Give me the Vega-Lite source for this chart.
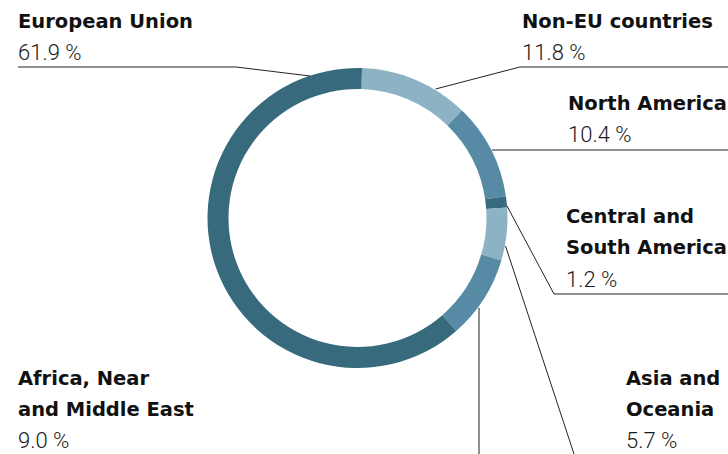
{
  "$schema": "https://vega.github.io/schema/vega-lite/v6.json",
  "width": 715,
  "height": 436,
  "autosize": {"type": "none"},
  "padding": {"left": 0, "top": 0, "right": 13, "bottom": 18},
  "background": "white",
  "config": {"font": "Roboto", "view": {"stroke": null}},
  "datasets": {
    "shares": [
      {"region": "Non-EU countries", "share": 11.8, "idx": 1, "title": ["Non-EU countries"], "lx": 522, "ly": 28, "vy": 60},
      {"region": "North America", "share": 10.4, "idx": 2, "title": ["North America"], "lx": 568, "ly": 110, "vy": 142},
      {"region": "Central and South America", "share": 1.2, "idx": 3, "title": ["Central and", "South America"], "lx": 566, "ly": 223, "vy": 287},
      {"region": "Asia and Oceania", "share": 5.7, "idx": 4, "title": ["Asia and", "Oceania"], "lx": 626, "ly": 385, "vy": 448},
      {"region": "Africa, Near and Middle East", "share": 9.0, "idx": 5, "title": ["Africa, Near", "and Middle East"], "lx": 18, "ly": 385, "vy": 448},
      {"region": "European Union", "share": 61.9, "idx": 6, "title": ["European Union"], "lx": 18, "ly": 28, "vy": 60}
    ],
    "leaders": [
      {"region": "European Union", "step": 1, "px": 18, "py": 67},
      {"region": "European Union", "step": 2, "px": 236, "py": 67},
      {"region": "European Union", "step": 3, "px": 310, "py": 76},
      {"region": "Non-EU countries", "step": 1, "px": 435.5, "py": 89},
      {"region": "Non-EU countries", "step": 2, "px": 520, "py": 67},
      {"region": "Non-EU countries", "step": 3, "px": 728, "py": 67},
      {"region": "North America", "step": 1, "px": 492, "py": 150},
      {"region": "North America", "step": 2, "px": 728, "py": 150},
      {"region": "Central and South America", "step": 1, "px": 507, "py": 206},
      {"region": "Central and South America", "step": 2, "px": 554, "py": 294},
      {"region": "Central and South America", "step": 3, "px": 728, "py": 294},
      {"region": "Asia and Oceania", "step": 1, "px": 505.5, "py": 246},
      {"region": "Asia and Oceania", "step": 2, "px": 576, "py": 460},
      {"region": "Africa, Near and Middle East", "step": 1, "px": 479, "py": 308},
      {"region": "Africa, Near and Middle East", "step": 2, "px": 479, "py": 460}
    ]
  },
  "layer": [
    {
      "data": {"name": "shares"},
      "mark": {"type": "arc", "innerRadius": 129, "outerRadius": 150},
      "encoding": {
        "theta": {"field": "share", "type": "quantitative", "stack": true, "scale": {"range": [0.03, 6.3132]}},
        "color": {
          "field": "region",
          "type": "nominal",
          "scale": {
            "domain": ["Non-EU countries", "North America", "Central and South America", "Asia and Oceania", "Africa, Near and Middle East", "European Union"],
            "range": ["#8cb2c3", "#578aa5", "#386a7e", "#8cb2c3", "#578aa5", "#386a7e"]
          },
          "legend": null
        },
        "order": {"field": "idx", "type": "quantitative"}
      }
    },
    {
      "data": {"name": "leaders"},
      "mark": {"type": "line", "stroke": "#222222", "strokeWidth": 1},
      "encoding": {
        "x": {"field": "px", "type": "quantitative", "scale": {"domain": [0, 715], "range": [0, 715], "nice": false, "zero": false}, "axis": null},
        "y": {"field": "py", "type": "quantitative", "scale": {"domain": [0, 436], "range": [0, 436], "nice": false, "zero": false}, "axis": null},
        "detail": {"field": "region", "type": "nominal"},
        "order": {"field": "step", "type": "quantitative"}
      }
    },
    {
      "data": {"name": "shares"},
      "mark": {"type": "text", "align": "left", "baseline": "alphabetic", "font": "DejaVu Sans", "fontSize": 19.5, "fontWeight": "bold", "lineHeight": 31, "color": "#111111"},
      "encoding": {
        "x": {"field": "lx", "type": "quantitative", "scale": {"domain": [0, 715], "range": [0, 715], "nice": false, "zero": false}, "axis": null},
        "y": {"field": "ly", "type": "quantitative", "scale": {"domain": [0, 436], "range": [0, 436], "nice": false, "zero": false}, "axis": null},
        "text": {"field": "title", "type": "nominal"}
      }
    },
    {
      "data": {"name": "shares"},
      "transform": [{"calculate": "format(datum.share, '.1f') + ' %'", "as": "pct"}],
      "mark": {"type": "text", "align": "left", "baseline": "alphabetic", "font": "Roboto", "fontSize": 22, "fontWeight": 300, "color": "#1a1a1a"},
      "encoding": {
        "x": {"field": "lx", "type": "quantitative", "scale": {"domain": [0, 715], "range": [0, 715], "nice": false, "zero": false}, "axis": null},
        "y": {"field": "vy", "type": "quantitative", "scale": {"domain": [0, 436], "range": [0, 436], "nice": false, "zero": false}, "axis": null},
        "text": {"field": "pct", "type": "nominal"}
      }
    }
  ]
}
